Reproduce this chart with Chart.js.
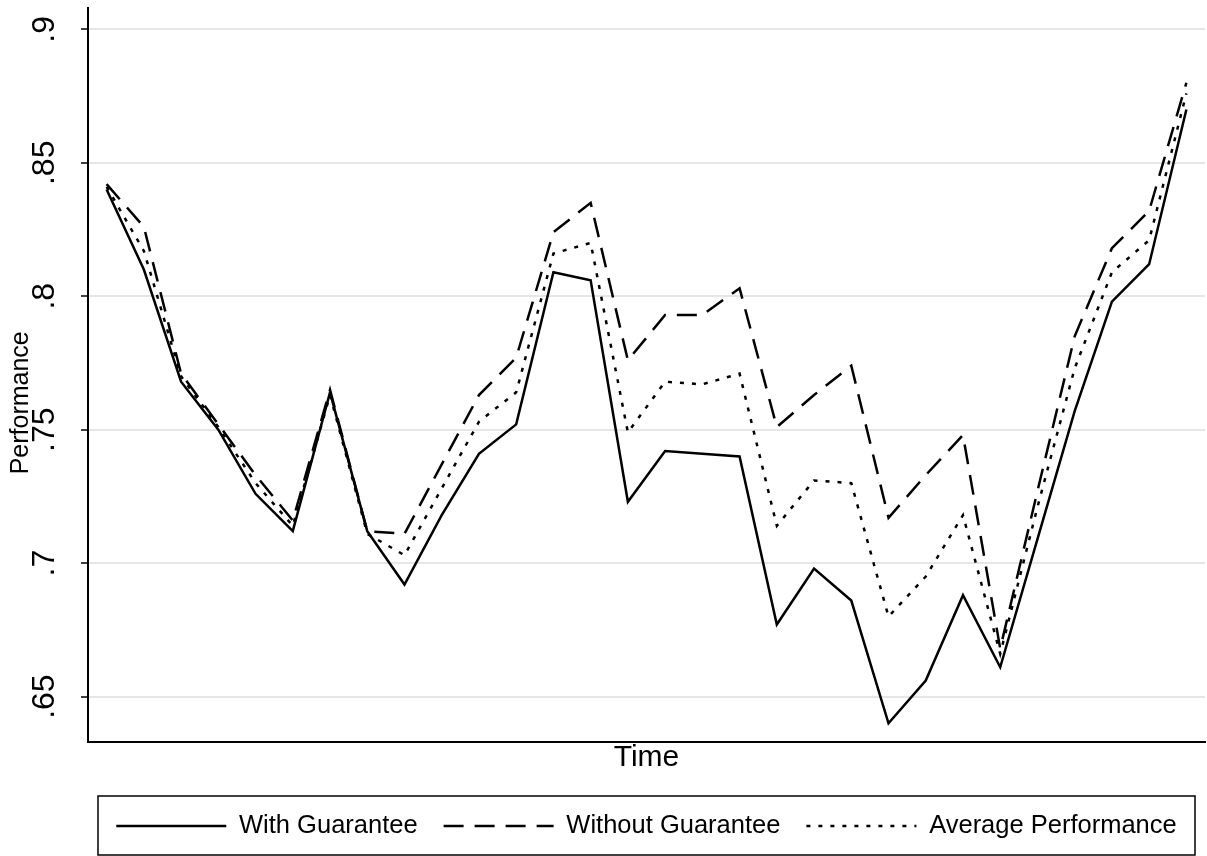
<!DOCTYPE html>
<html lang="en">
<head>
    <meta charset="UTF-8">
    <title>Performance over Time</title>
    <script src="https://cdn.jsdelivr.net/npm/chart.js@4"></script>
    <style>
        html, body { margin: 0; padding: 0; background: #fff; }
        #wrap { width: 1207px; height: 856px; }
    </style>
</head>
<body>
    <div id="wrap"><canvas id="perfChart"></canvas></div>

    <script>
        // time periods (x axis has no tick labels in the original)
        var periods = [1, 2, 3, 4, 5, 6, 7, 8, 9, 10, 11, 12, 13, 14, 15,
                       16, 17, 18, 19, 20, 21, 22, 23, 24, 25, 26, 27, 28, 29, 30];

        var withGuarantee = [0.840, 0.810, 0.768, 0.750, 0.726, 0.712, 0.764, 0.712, 0.692, 0.718,
                             0.741, 0.752, 0.809, 0.806, 0.723, 0.742, 0.741, 0.740, 0.677, 0.698,
                             0.686, 0.640, 0.656, 0.688, 0.661, 0.709, 0.757, 0.798, 0.812, 0.870];

        var withoutGuarantee = [0.842, 0.826, 0.771, 0.752, 0.733, 0.716, 0.765, 0.712, 0.711, 0.737,
                                0.763, 0.777, 0.824, 0.835, 0.776, 0.793, 0.793, 0.803, 0.751, 0.763,
                                0.774, 0.717, 0.733, 0.748, 0.668, 0.727, 0.785, 0.818, 0.832, 0.880];

        var averagePerformance = [0.841, 0.817, 0.770, 0.751, 0.730, 0.714, 0.763, 0.711, 0.703, 0.728,
                                  0.753, 0.764, 0.816, 0.820, 0.749, 0.768, 0.767, 0.771, 0.714, 0.731,
                                  0.730, 0.680, 0.695, 0.718, 0.666, 0.721, 0.773, 0.809, 0.821, 0.876];

        var yTickValues = [0.65, 0.7, 0.75, 0.8, 0.85, 0.9];
        var yTickLabels = ['.65', '.7', '.75', '.8', '.85', '.9'];

        var fontFamily = "'Liberation Sans', Arial, sans-serif";

        // Stata-like box round the legend
        var legendBox = {
            id: 'legendBox',
            afterDraw: function (chart) {
                var lg = chart.legend;
                var ctx = chart.ctx;
                ctx.save();
                ctx.strokeStyle = '#000';
                ctx.lineWidth = 1.5;
                ctx.setLineDash([]);
                ctx.strokeRect(lg.left + 10, lg.top + 8.75, lg.width - 20, 59);
                ctx.restore();
            }
        };

        var ctx = document.getElementById('perfChart').getContext('2d');
        var perfChart = new Chart(ctx, {
            type: 'line',
            data: {
                labels: periods,
                datasets: [{
                    label: 'With Guarantee',
                    data: withGuarantee,
                    borderColor: '#000',
                    backgroundColor: '#000',
                    borderWidth: 2.5,
                    pointRadius: 0,
                    tension: 0,
                    fill: false
                }, {
                    label: 'Without Guarantee',
                    data: withoutGuarantee,
                    borderColor: '#000',
                    backgroundColor: '#000',
                    borderWidth: 2.5,
                    borderDash: [20, 11],
                    pointRadius: 0,
                    tension: 0,
                    fill: false
                }, {
                    label: 'Average Performance',
                    data: averagePerformance,
                    borderColor: '#000',
                    backgroundColor: '#000',
                    borderWidth: 2.5,
                    borderDash: [4, 8],
                    pointRadius: 0,
                    tension: 0,
                    fill: false
                }]
            },
            options: {
                responsive: true,
                maintainAspectRatio: false,
                animation: false,
                layout: { padding: { top: 8, right: 2, left: 0, bottom: 7.25 } },
                plugins: {
                    tooltip: { enabled: false },
                    legend: {
                        position: 'bottom',
                        fullSize: false,
                        labels: {
                            color: '#000',
                            font: { family: fontFamily, size: 25.5 },
                            usePointStyle: true,
                            pointStyle: 'line',
                            pointStyleWidth: 110,
                            padding: 26,
                            generateLabels: function (chart) {
                                var items = Chart.defaults.plugins.legend.labels.generateLabels(chart);
                                items.forEach(function (item) {
                                    var ds = chart.data.datasets[item.datasetIndex];
                                    item.lineDash = ds.borderDash || [];
                                    item.lineWidth = 2.5;
                                    item.strokeStyle = '#000';
                                });
                                return items;
                            }
                        }
                    }
                },
                scales: {
                    x: {
                        type: 'category',
                        offset: true,
                        ticks: { display: false },
                        grid: { display: true, drawOnChartArea: false, drawTicks: false },
                        border: { display: true, color: '#000', width: 2 },
                        title: {
                            display: true,
                            text: 'Time',
                            color: '#000',
                            font: { family: fontFamily, size: 30 },
                            padding: { top: 0, bottom: 11.25 }
                        },
                        afterFit: function (scale) {
                            scale.height = 45.25;
                            scale.paddingLeft = 0;
                            scale.paddingRight = 0;
                        }
                    },
                    y: {
                        min: 0.633,
                        max: 0.908,
                        afterBuildTicks: function (scale) {
                            scale.ticks = yTickValues.map(function (v) { return { value: v }; });
                        },
                        ticks: {
                            color: '#000',
                            font: { family: fontFamily, size: 32 },
                            minRotation: 90,
                            maxRotation: 90,
                            crossAlign: 'center',
                            padding: 14,
                            callback: function (value) {
                                var i = yTickValues.indexOf(value);
                                return i >= 0 ? yTickLabels[i] : '';
                            }
                        },
                        grid: {
                            color: '#e6e6e6',
                            lineWidth: 2,
                            tickColor: '#000',
                            tickLength: 7,
                            tickWidth: 1.5
                        },
                        border: { display: true, color: '#000', width: 2 },
                        title: {
                            display: true,
                            // trailing spaces push the title a little below the axis middle, as in the original
                            text: 'Performance        ',
                            color: '#000',
                            font: { family: fontFamily, size: 25 },
                            padding: { top: 6, bottom: 0 }
                        },
                        afterFit: function (scale) {
                            scale.width = 88;
                            scale.paddingTop = 0;
                            scale.paddingBottom = 0;
                        }
                    }
                }
            },
            plugins: [legendBox]
        });
    </script>
</body>
</html>
